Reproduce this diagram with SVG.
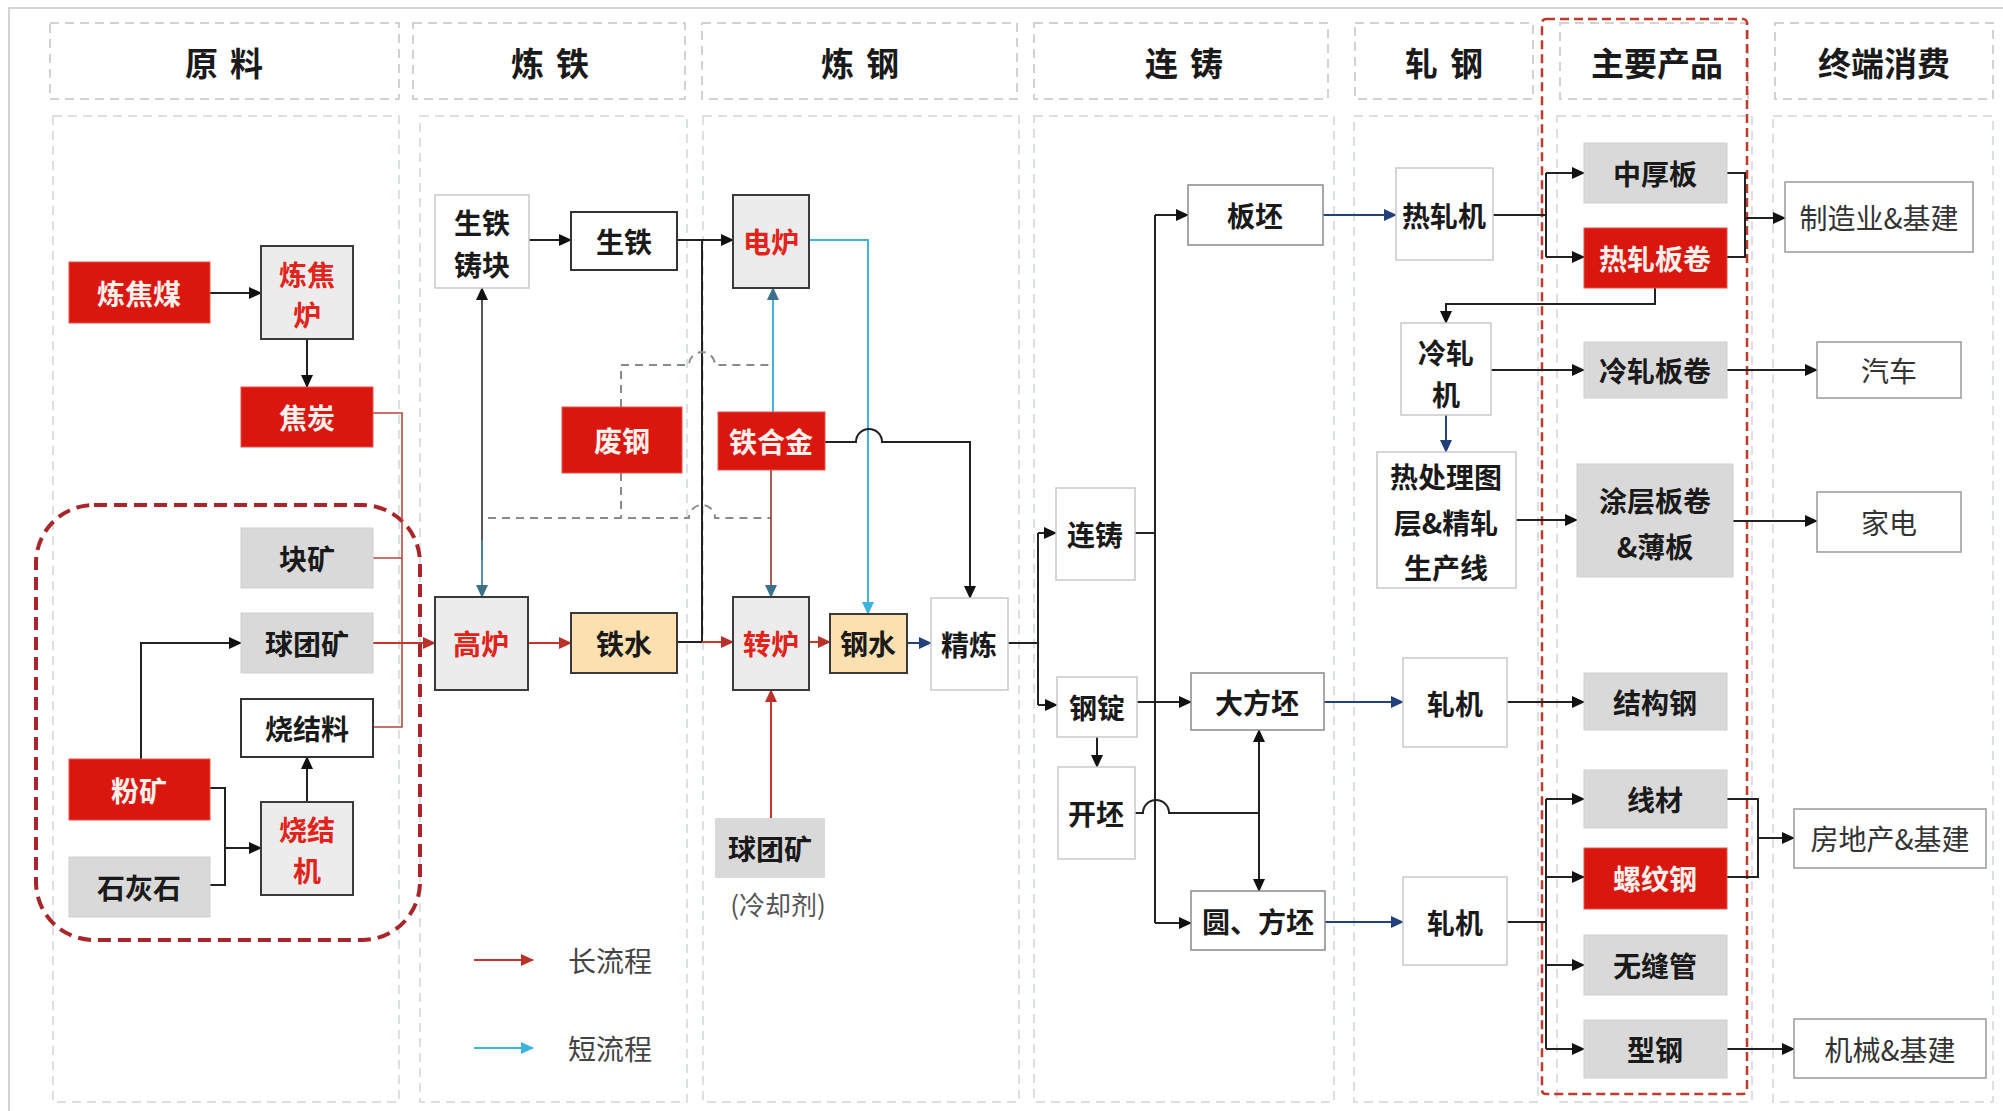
<svg xmlns="http://www.w3.org/2000/svg" width="2003" height="1111" viewBox="0 0 2003 1111">
<defs>
<style>
text{font-family:"Noto Sans CJK SC","Noto Sans",sans-serif;text-anchor:middle;dominant-baseline:central}
.hdr rect{fill:#fff;stroke:#c4c4c4;stroke-width:1.5;stroke-dasharray:9 6}
.hdr text{font-size:33px;font-weight:bold;fill:#1a1a1a;letter-spacing:12px}
.body{fill:none;stroke:#cfd6dd;stroke-width:1.5;stroke-dasharray:9 6}
.node text{font-size:28px;font-weight:bold;fill:#1a1a1a}
.red rect{fill:#d9170f;stroke:#e8524a;stroke-width:1}
.red text{fill:#fff0ec}
.gray rect{fill:#d9d9d9;stroke:#cfcfcf;stroke-width:1}
.grayd rect{fill:#ececec;stroke:#3a3a3a;stroke-width:2}
.grayd text{fill:#e2231a}
.orange rect{fill:#fce0b0;stroke:#3a3a3a;stroke-width:2}
.wd rect{fill:#fff;stroke:#333;stroke-width:2}
.wl rect{fill:#fff;stroke:#c9c9c9;stroke-width:1.5}
.wm rect{fill:#fff;stroke:#8a8a8a;stroke-width:1.5}
.cons rect{fill:#fff;stroke:#9a9a9a;stroke-width:1.5}
.cons text{font-weight:normal;fill:#333;font-size:28px}
.c{fill:none;stroke-width:2}
.k{stroke:#222}
.r{stroke:#c0392b}
.t{stroke:#3fb3dd}
.n{stroke:#22407a}
.dsh{fill:none;stroke:#8a8a8a;stroke-width:2;stroke-dasharray:8 6}
</style>
<marker id="ak" markerUnits="userSpaceOnUse" markerWidth="13" markerHeight="12" refX="12" refY="6" orient="auto"><path d="M0,0 L13,6 L0,12 z" fill="#111"/></marker>
<marker id="ar" markerUnits="userSpaceOnUse" markerWidth="13" markerHeight="12" refX="12" refY="6" orient="auto"><path d="M0,0 L13,6 L0,12 z" fill="#b8322a"/></marker>
<marker id="at" markerUnits="userSpaceOnUse" markerWidth="13" markerHeight="12" refX="12" refY="6" orient="auto"><path d="M0,0 L13,6 L0,12 z" fill="#3fb3dd"/></marker>
<marker id="as" markerUnits="userSpaceOnUse" markerWidth="13" markerHeight="12" refX="12" refY="6" orient="auto"><path d="M0,0 L13,6 L0,12 z" fill="#3b7189"/></marker>
<marker id="an" markerUnits="userSpaceOnUse" markerWidth="13" markerHeight="12" refX="12" refY="6" orient="auto"><path d="M0,0 L13,6 L0,12 z" fill="#22407a"/></marker>
</defs>
<rect width="2003" height="1111" fill="#fff"/>
<path d="M9,1111 V8 H2003" fill="none" stroke="#d4d4d4" stroke-width="2"/>

<g id="columns">
<rect class="body" x="53" y="116" width="346" height="986"/>
<rect class="body" x="420" y="116" width="267" height="986"/>
<rect class="body" x="703" y="116" width="316" height="986"/>
<rect class="body" x="1034" y="116" width="300" height="986"/>
<rect class="body" x="1354" y="116" width="184" height="986"/>
<rect class="body" x="1557" y="116" width="195" height="986"/>
<rect class="body" x="1773" y="116" width="220" height="986"/>
<g class="hdr" id="h1"><rect x="50" y="23" width="349" height="76"/><text x="230" y="62">原料</text></g>
<g class="hdr" id="h2"><rect x="413" y="23" width="272" height="76"/><text x="556" y="62">炼铁</text></g>
<g class="hdr" id="h3"><rect x="702" y="23" width="315" height="76"/><text x="866" y="62">炼钢</text></g>
<g class="hdr" id="h4"><rect x="1034" y="23" width="294" height="76"/><text x="1190" y="62">连铸</text></g>
<g class="hdr" id="h5"><rect x="1355" y="23" width="178" height="76"/><text x="1450" y="62">轧钢</text></g>
<g class="hdr" id="h6"><rect x="1560" y="23" width="188" height="76"/><text x="1657" y="62" style="letter-spacing:0">主要产品</text></g>
<g class="hdr" id="h7"><rect x="1775" y="23" width="218" height="76"/><text x="1884" y="62" style="letter-spacing:0">终端消费</text></g>
</g>

<rect x="36" y="505" width="384" height="435" rx="58" fill="none" stroke="#a8262a" stroke-width="4" stroke-dasharray="13 7"/>
<rect x="1542" y="19" width="205" height="1075" rx="4" fill="none" stroke="#c0392b" stroke-width="2.5" stroke-dasharray="9 5"/>

<g id="connectors">
<path class="c k" d="M210,293 H261" marker-end="url(#ak)"/>
<path class="c k" d="M307,339 V387" marker-end="url(#ak)"/>
<path class="c k" d="M141,759 V643 H241" marker-end="url(#ak)"/>
<path class="c k" d="M210,788 H225 V885 H210"/>
<path class="c k" d="M225,848 H261" marker-end="url(#ak)"/>
<path class="c k" d="M307,802 V757" marker-end="url(#ak)"/>
<path d="M373,413 H402 V727 H373 M373,558 H402" fill="none" stroke="#b9463f" stroke-width="1.6"/>
<path class="c r" d="M373,643 H435" marker-end="url(#ar)"/>
<path class="c k" d="M529,240 H571" marker-end="url(#ak)"/>
<path d="M482,560 V288" fill="none" stroke="#444" stroke-width="1.8" marker-end="url(#ak)"/>
<path d="M482,540 V597" fill="none" stroke="#4a8599" stroke-width="1.8" marker-end="url(#as)"/>
<path class="c r" d="M528,643 H571" marker-end="url(#ar)"/>
<path class="c k" d="M677,240 H733" marker-end="url(#ak)"/>
<path class="c k" d="M702,240 V642 M676,642 H702"/>
<path class="c r" d="M702,642 H733" marker-end="url(#ar)"/>
<path class="dsh" d="M621,407 V365 H689 A13,13 0 0 1 715,365 H773"/>
<path class="dsh" d="M488,518 H689 A13,13 0 0 1 715,518 H771 M621,473 V518"/>
<path class="c t" d="M773,412 V288" marker-end="url(#as)"/>
<path d="M771,470 V597" fill="none" stroke="#9c4a44" stroke-width="1.8" marker-end="url(#as)"/>
<path class="c t" d="M809,240 H868 V614" marker-end="url(#at)"/>
<path class="c k" d="M825,442 H856 A13,13 0 0 1 882,442 H970 V598" marker-end="url(#ak)"/>
<path class="c r" d="M809,642 H830" marker-end="url(#ar)"/>
<path class="c r" d="M771,818 V690" marker-end="url(#ar)"/>
<path class="c n" d="M907,643 H931" marker-end="url(#an)"/>
<path class="c k" d="M1008,643 H1038 M1038,533 V705"/>
<path class="c k" d="M1038,533 H1056" marker-end="url(#ak)"/>
<path class="c k" d="M1038,705 H1057" marker-end="url(#ak)"/>
<path class="c k" d="M1135,533 H1155 M1155,215 V923"/>
<path class="c k" d="M1155,215 H1188" marker-end="url(#ak)"/>
<path class="c k" d="M1155,923 H1191" marker-end="url(#ak)"/>
<path class="c k" d="M1137,702 H1191" marker-end="url(#ak)"/>
<path class="c k" d="M1097,737 V767" marker-end="url(#ak)"/>
<path class="c k" d="M1135,813 H1143 A13,13 0 0 1 1169,813 H1259"/>
<path class="c k" d="M1259,813 V730" marker-end="url(#ak)"/>
<path class="c k" d="M1259,813 V891" marker-end="url(#ak)"/>
<path class="c n" d="M1323,215 H1396" marker-end="url(#an)"/>
<path class="c k" d="M1493,215 H1546 M1546,173 V257"/>
<path class="c k" d="M1546,173 H1584" marker-end="url(#ak)"/>
<path class="c k" d="M1546,257 H1584" marker-end="url(#ak)"/>
<path class="c k" d="M1727,173 H1745 V257 H1727"/>
<path class="c k" d="M1745,218 H1785" marker-end="url(#ak)"/>
<path class="c k" d="M1655,288 V304 H1446 V323" marker-end="url(#ak)"/>
<path class="c k" d="M1491,370 H1584" marker-end="url(#ak)"/>
<path class="c k" d="M1727,370 H1817" marker-end="url(#ak)"/>
<path class="c n" d="M1446,415 V452" marker-end="url(#an)"/>
<path class="c k" d="M1516,520 H1577" marker-end="url(#ak)"/>
<path class="c k" d="M1733,521 H1817" marker-end="url(#ak)"/>
<path class="c n" d="M1324,702 H1403" marker-end="url(#an)"/>
<path class="c k" d="M1507,702 H1584" marker-end="url(#ak)"/>
<path class="c n" d="M1325,922 H1403" marker-end="url(#an)"/>
<path class="c k" d="M1507,922 H1546 M1546,799 V1049"/>
<path class="c k" d="M1546,799 H1584" marker-end="url(#ak)"/>
<path class="c k" d="M1546,877 H1584" marker-end="url(#ak)"/>
<path class="c k" d="M1546,965 H1584" marker-end="url(#ak)"/>
<path class="c k" d="M1546,1049 H1584" marker-end="url(#ak)"/>
<path class="c k" d="M1727,799 H1758 V877 H1727"/>
<path class="c k" d="M1758,838 H1794" marker-end="url(#ak)"/>
<path class="c k" d="M1727,1049 H1794" marker-end="url(#ak)"/>
</g>

<g id="nodes">
<g class="node red" id="n-ljm"><rect x="69" y="262" width="141" height="61"/><text x="139" y="293">炼焦煤</text></g>
<g class="node grayd" id="n-ljl"><rect x="261" y="246" width="92" height="93"/><text x="307" y="274">炼焦</text><text x="307" y="314">炉</text></g>
<g class="node red" id="n-jt"><rect x="241" y="387" width="132" height="60"/><text x="307" y="417">焦炭</text></g>
<g class="node gray" id="n-kk"><rect x="241" y="528" width="132" height="60"/><text x="307" y="558">块矿</text></g>
<g class="node gray" id="n-qtk1"><rect x="241" y="613" width="132" height="60"/><text x="307" y="643">球团矿</text></g>
<g class="node wd" id="n-sjl"><rect x="241" y="699" width="132" height="58"/><text x="307" y="728">烧结料</text></g>
<g class="node red" id="n-fk"><rect x="69" y="759" width="141" height="61"/><text x="139" y="790">粉矿</text></g>
<g class="node gray" id="n-shs"><rect x="69" y="857" width="141" height="60"/><text x="139" y="887">石灰石</text></g>
<g class="node grayd" id="n-sjj"><rect x="261" y="802" width="92" height="93"/><text x="307" y="829">烧结</text><text x="307" y="870">机</text></g>

<g class="node wl" id="n-stzk"><rect x="435" y="195" width="94" height="93"/><text x="482" y="222">生铁</text><text x="482" y="264">铸块</text></g>
<g class="node wd" id="n-st"><rect x="571" y="212" width="106" height="58"/><text x="624" y="241">生铁</text></g>
<g class="node grayd" id="n-gl"><rect x="435" y="597" width="93" height="93"/><text x="481" y="643">高炉</text></g>
<g class="node orange" id="n-ts"><rect x="571" y="613" width="106" height="60"/><text x="624" y="643">铁水</text></g>
<g class="node red" id="n-fg"><rect x="562" y="407" width="120" height="66"/><text x="622" y="440">废钢</text></g>

<g class="node grayd" id="n-dl"><rect x="733" y="195" width="76" height="93"/><text x="771" y="241">电炉</text></g>
<g class="node red" id="n-thj"><rect x="718" y="412" width="107" height="58"/><text x="771" y="441">铁合金</text></g>
<g class="node grayd" id="n-zl"><rect x="733" y="597" width="76" height="93"/><text x="771" y="643">转炉</text></g>
<g class="node orange" id="n-gs"><rect x="830" y="614" width="77" height="59"/><text x="868" y="643">钢水</text></g>
<g class="node wl" id="n-jl"><rect x="931" y="598" width="77" height="92"/><text x="969" y="644">精炼</text></g>
<g class="node gray" id="n-qtk2"><rect x="715" y="818" width="110" height="60" style="stroke:none"/><text x="770" y="848">球团矿</text></g>
<text x="778" y="903" style="font-size:26px;fill:#555">(冷却剂)</text>

<g class="node wl" id="n-lz"><rect x="1056" y="488" width="79" height="92"/><text x="1095" y="534">连铸</text></g>
<g class="node wl" id="n-gd"><rect x="1057" y="677" width="80" height="60"/><text x="1097" y="707">钢锭</text></g>
<g class="node wl" id="n-kp"><rect x="1058" y="767" width="77" height="92"/><text x="1096" y="813">开坯</text></g>
<g class="node wm" id="n-bp"><rect x="1188" y="185" width="135" height="60"/><text x="1255" y="215">板坯</text></g>
<g class="node wm" id="n-dfp"><rect x="1191" y="673" width="133" height="57"/><text x="1257" y="702">大方坯</text></g>
<g class="node wm" id="n-yfp"><rect x="1191" y="891" width="134" height="59"/><text x="1258" y="921">圆、方坯</text></g>

<g class="node wl" id="n-rzj"><rect x="1396" y="168" width="97" height="92"/><text x="1444" y="215">热轧机</text></g>
<g class="node wl" id="n-lzj"><rect x="1401" y="323" width="90" height="92"/><text x="1446" y="352">冷轧</text><text x="1446" y="394">机</text></g>
<g class="node wl" id="n-rcl"><rect x="1377" y="452" width="139" height="136"/><text x="1446" y="476">热处理图</text><text x="1446" y="522">层&amp;精轧</text><text x="1446" y="567">生产线</text></g>
<g class="node wl" id="n-zj1"><rect x="1403" y="658" width="104" height="89"/><text x="1455" y="703">轧机</text></g>
<g class="node wl" id="n-zj2"><rect x="1403" y="877" width="104" height="88"/><text x="1455" y="922">轧机</text></g>

<g class="node gray" id="n-zhb"><rect x="1584" y="143" width="143" height="60"/><text x="1655" y="173">中厚板</text></g>
<g class="node red" id="n-rzbj"><rect x="1584" y="228" width="143" height="60"/><text x="1655" y="258">热轧板卷</text></g>
<g class="node gray" id="n-lzbj"><rect x="1584" y="342" width="143" height="56"/><text x="1655" y="370">冷轧板卷</text></g>
<g class="node gray" id="n-tc"><rect x="1577" y="464" width="156" height="113"/><text x="1655" y="500">涂层板卷</text><text x="1655" y="546">&amp;薄板</text></g>
<g class="node gray" id="n-jgg"><rect x="1584" y="673" width="143" height="57"/><text x="1655" y="702">结构钢</text></g>
<g class="node gray" id="n-xc"><rect x="1584" y="770" width="143" height="58"/><text x="1655" y="799">线材</text></g>
<g class="node red" id="n-lwg"><rect x="1584" y="848" width="143" height="61"/><text x="1655" y="878">螺纹钢</text></g>
<g class="node gray" id="n-wfg"><rect x="1584" y="935" width="143" height="60"/><text x="1655" y="965">无缝管</text></g>
<g class="node gray" id="n-xg"><rect x="1584" y="1020" width="143" height="58"/><text x="1655" y="1049">型钢</text></g>

<g class="node cons" id="n-zzy"><rect x="1785" y="182" width="188" height="70"/><text x="1879" y="217">制造业&amp;基建</text></g>
<g class="node cons" id="n-qc"><rect x="1817" y="342" width="144" height="56"/><text x="1889" y="370">汽车</text></g>
<g class="node cons" id="n-jd"><rect x="1817" y="492" width="144" height="60"/><text x="1889" y="522">家电</text></g>
<g class="node cons" id="n-fdc"><rect x="1794" y="809" width="192" height="59"/><text x="1890" y="838">房地产&amp;基建</text></g>
<g class="node cons" id="n-jx"><rect x="1794" y="1019" width="192" height="59"/><text x="1890" y="1049">机械&amp;基建</text></g>
</g>

<g id="legend">
<path class="c r" d="M474,960 H533" marker-end="url(#ar)"/>
<text x="610" y="960" style="font-size:28px;fill:#444">长流程</text>
<path class="c t" d="M474,1048 H533" marker-end="url(#at)"/>
<text x="610" y="1048" style="font-size:28px;fill:#444">短流程</text>
</g>
</svg>
